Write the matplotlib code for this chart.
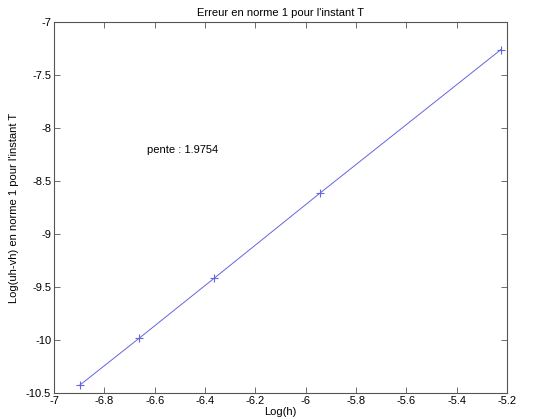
import matplotlib
matplotlib.use("Agg")
import matplotlib.pyplot as plt

log_h = [-6.897, -6.662, -6.364, -5.944, -5.224]
log_err = [-10.425, -9.984, -9.418, -8.616, -7.26]
xticks = [-7, -6.8, -6.6, -6.4, -6.2, -6, -5.8, -5.6, -5.4, -5.2]
xticklabels = ["-7", "-6.8", "-6.6", "-6.4", "-6.2", "-6", "-5.8", "-5.6", "-5.4", "-5.2"]
yticks = [-10.5, -10, -9.5, -9, -8.5, -8, -7.5, -7]
yticklabels = ["-10.5", "-10", "-9.5", "-9", "-8.5", "-8", "-7.5", "-7"]
title = "Erreur en norme 1 pour l'instant T"
xlabel = "Log(h)"
ylabel = "Log(uh-vh) en norme 1 pour l'instant T"
annotation = "pente : 1.9754"

plt.rcParams['font.family'] = ['Liberation Sans', 'DejaVu Sans']
fig = plt.figure(figsize=(5.43, 4.19), dpi=100)
ax = fig.add_axes([54/543, 1-393/419, (507-54)/543, (393-22)/419])
ax.plot(log_h, log_err, color='#6464e0', lw=0.7, marker='+', ms=5.5, mew=0.8)
ax.set_xlim(-7, -5.2)
ax.set_ylim(-10.5, -7)
ax.set_xticks(xticks)
ax.set_xticklabels(xticklabels)
ax.set_yticks(yticks)
ax.set_yticklabels(yticklabels)
ax.tick_params(direction='in', top=True, right=True, labelsize=8, length=4, width=0.6, color='#555555', pad=2)
for s in ax.spines.values():
    s.set_color('#555555')
    s.set_linewidth(0.8)
ax.set_title(title, fontsize=8, pad=4)
ax.set_xlabel(xlabel, fontsize=8, labelpad=1)
ax.set_ylabel(ylabel, fontsize=8, labelpad=5)
ax.text(-6.63, -8.21, annotation, fontsize=8, va='center', ha='left')
fig.savefig("out.png", dpi=100)
